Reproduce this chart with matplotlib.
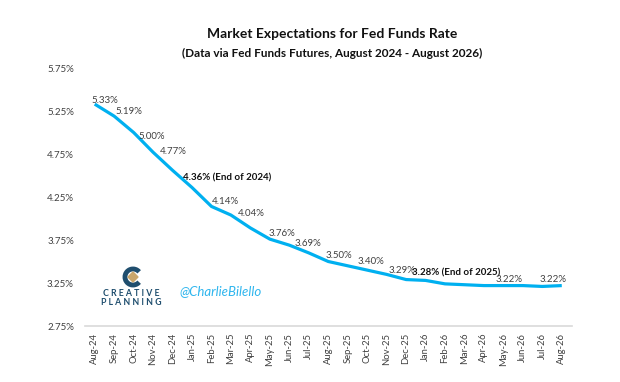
import matplotlib
matplotlib.use("Agg")
import matplotlib.pyplot as plt
from matplotlib.patches import Arc, Polygon

months = ["Aug-24", "Sep-24", "Oct-24", "Nov-24", "Dec-24", "Jan-25", "Feb-25", "Mar-25",
          "Apr-25", "May-25", "Jun-25", "Jul-25", "Aug-25", "Sep-25", "Oct-25", "Nov-25",
          "Dec-25", "Jan-26", "Feb-26", "Mar-26", "Apr-26", "May-26", "Jun-26", "Jul-26", "Aug-26"]
rates = [5.33, 5.19, 5.00, 4.77, 4.56, 4.36, 4.14, 4.04, 3.89, 3.76, 3.69, 3.60, 3.50,
         3.45, 3.40, 3.35, 3.29, 3.28, 3.24, 3.23, 3.22, 3.22, 3.22, 3.21, 3.22]
yticks = [2.75, 3.25, 3.75, 4.25, 4.75, 5.25, 5.75]

# labelled points: index, suffix, bold, offset (pixels)
labelled = [
    (0, "", False, (10, 4)),
    (1, "", False, (15, 5)),
    (2, "", False, (18, -4)),
    (3, "", False, (20, 1)),
    (5, " (End of 2024)", True, (35, 10)),
    (6, "", False, (14, 5)),
    (7, "", False, (20, 2)),
    (9, "", False, (12, 6)),
    (10, "", False, (19, 2)),
    (12, "", False, (11, 6)),
    (14, "", False, (4, 9)),
    (16, "", False, (-4, 9)),
    (17, " (End of 2025)", True, (31, 7)),
    (21, "", False, (6, 6)),
    (24, "", False, (-9, 6)),
]

FONT = "Lato"
plt.rcParams["font.family"] = [FONT, "DejaVu Sans"]

fig = plt.figure(figsize=(6.2, 3.82), dpi=100)
ax = fig.add_axes([85 / 620, 56 / 382, 486.5 / 620, 258 / 382])

x = list(range(len(months)))
ax.plot(x, rates, color="#00B0F0", lw=2.3, solid_capstyle="butt", solid_joinstyle="round")

for i, suf, bold, (dx, dy) in labelled:
    ax.annotate(f"{rates[i]:.2f}%{suf}", xy=(i, rates[i]), xytext=(dx, dy),
                textcoords="offset pixels", ha="center", va="center",
                fontsize=7, color="#111111" if bold else "#404040",
                fontweight="bold" if bold else "normal")

ax.set_xlim(-0.5, len(months) - 0.5)
ax.set_ylim(yticks[0], yticks[-1])
ax.set_yticks(yticks)
ax.set_yticklabels([f"{v:.2f}%" for v in yticks], fontsize=7, color="#404040")
ax.set_xticks(x)
ax.set_xticklabels(months, rotation=90, fontsize=6.8, color="#404040")
ax.tick_params(axis="both", length=0)
ax.tick_params(axis="y", pad=8)
ax.tick_params(axis="x", pad=5)
for s in ["top", "right", "left"]:
    ax.spines[s].set_visible(False)
ax.spines["bottom"].set_color("#d9d9d9")
ax.spines["bottom"].set_linewidth(1.2)

fig.text(332 / 620, 1 - 34.5 / 382, "Market Expectations for Fed Funds Rate",
         ha="center", va="center", fontsize=10, fontweight="bold", color="#111111")
fig.text(332 / 620, 1 - 53.5 / 382, "(Data via Fed Funds Futures, August 2024 - August 2026)",
         ha="center", va="center", fontsize=8.5, fontweight="bold", color="#111111")

# logo
teal = "#1F4E6E"
lax = fig.add_axes([0, 0, 1, 1], facecolor="none")
lax.set_xlim(0, 620)
lax.set_ylim(382, 0)
lax.axis("off")
lax.add_patch(Arc((133, 277), 16, 16, theta1=40, theta2=320, color=teal, lw=3.5))
lax.add_patch(Polygon([(133, 272), (138, 277), (133, 282), (128, 277)], closed=True,
                      color="#C9A66B"))
lax.text(131, 293, "C R E A T I V E", ha="center", va="center", fontsize=6.3,
         fontweight="bold", color=teal)
lax.text(131, 302.5, "P L A N N I N G", ha="center", va="center", fontsize=6.3,
         fontweight="bold", color=teal)
lax.text(221, 291, "@CharlieBilello", ha="center", va="center", fontsize=9.5,
         style="italic", color="#2FB6EE")

fig.savefig("out.png", dpi=100, facecolor="white")
